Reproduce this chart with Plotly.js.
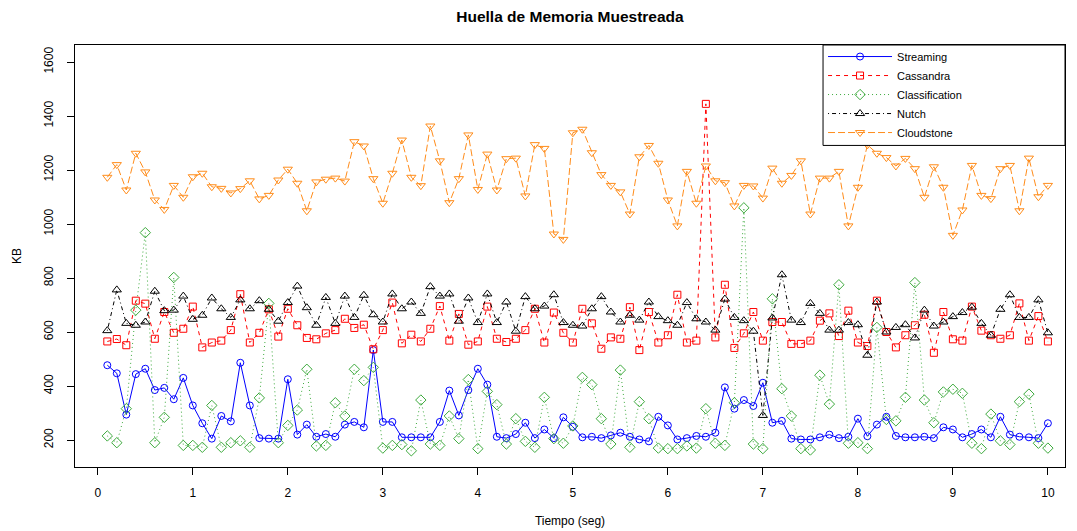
<!DOCTYPE html>
<html>
<head>
<meta charset="utf-8">
<script src="https://cdn.plot.ly/plotly-3.0.1.min.js"></script>
<style>html,body{margin:0;padding:0;background:#fff;}#chart{width:1077px;height:531px;}</style>
</head>
<body>
<div id="chart"></div>
<script>
const tiempo = [0.1,0.2,0.3,0.4,0.5,0.6,0.7,0.8,0.9,1.0,1.1,1.2,1.3,1.4,1.5,1.6,1.7,1.8,1.9,2.0,
2.1,2.2,2.3,2.4,2.5,2.6,2.7,2.8,2.9,3.0,3.1,3.2,3.3,3.4,3.5,3.6,3.7,3.8,3.9,4.0,
4.1,4.2,4.3,4.4,4.5,4.6,4.7,4.8,4.9,5.0,5.1,5.2,5.3,5.4,5.5,5.6,5.7,5.8,5.9,6.0,
6.1,6.2,6.3,6.4,6.5,6.6,6.7,6.8,6.9,7.0,7.1,7.2,7.3,7.4,7.5,7.6,7.7,7.8,7.9,8.0,
8.1,8.2,8.3,8.4,8.5,8.6,8.7,8.8,8.9,9.0,9.1,9.2,9.3,9.4,9.5,9.6,9.7,9.8,9.9,10.0];

const streaming = [477,447,294,444,464,385,393,351,430,328,262,205,289,269,486,328,207,205,205,
425,220,257,212,222,212,257,267,247,533,267,267,210,210,210,210,267,383,291,385,464,
405,212,207,222,264,207,239,207,284,249,210,212,207,217,227,212,202,195,286,254,
202,207,215,212,227,395,316,348,326,412,264,271,205,202,202,210,220,207,212,279,214,
257,286,215,210,210,212,207,247,239,210,222,239,210,286,220,212,210,207,262];

const cassandra = [565,574,551,716,705,575,674,597,612,694,543,561,568,607,740,561,597,684,583,
686,625,578,573,595,607,649,615,627,536,607,709,558,590,565,612,696,568,667,553,565,
694,575,563,575,607,686,561,672,597,561,686,632,538,580,575,692,533,674,561,588,
738,561,568,1445,580,775,541,595,674,568,637,637,556,556,568,642,669,585,679,561,
548,716,600,543,588,625,664,523,674,573,568,694,605,588,575,588,706,568,659,565];

const classification = [215,190,316,681,968,190,284,802,180,180,173,328,173,190,197,173,356,706,190,
254,311,462,178,180,338,289,462,420,469,170,180,183,160,348,185,180,289,205,424,168,
380,331,185,279,195,173,358,205,188,252,432,405,279,185,459,173,342,279,170,168,
168,178,170,316,188,180,338,1060,185,168,723,390,289,168,163,440,333,775,188,190,
168,617,276,271,358,783,348,264,378,388,373,188,168,296,197,183,342,370,188,170];

const nutch = [605,756,632,625,637,751,679,681,733,647,662,726,686,654,719,686,716,684,640,
709,770,690,625,728,632,733,654,736,664,637,741,686,711,669,768,733,741,640,726,635,
741,635,711,603,731,686,696,738,635,625,622,686,731,674,637,662,644,711,657,642,
625,709,649,637,607,722,654,642,603,291,652,812,644,635,706,669,607,607,635,627,
514,711,600,617,627,578,681,622,637,657,672,692,632,588,684,738,654,654,719,597];

const cloudstone = [1173,1220,1126,1262,1193,1089,1054,1143,1099,1175,1188,1138,1132,1115,1131,1160,1093,1106,1163,
1203,1151,1049,1156,1166,1170,1159,1305,1289,1168,1077,1188,1311,1173,1142,1363,1234,1079,1168,1330,1128,
1259,1126,1242,1244,1104,1294,1280,963,943,1338,1351,1264,1183,1143,1119,1037,1249,1291,1225,1089,
993,1195,1077,1215,1160,1153,1067,1143,1141,1096,1207,1151,1180,1234,1037,1170,1170,1195,993,1136,
1293,1262,1246,1215,1243,1205,1099,1212,1136,958,1052,1217,1106,1094,1205,1217,1049,1244,1101,1143];

const seriesNames = ["Streaming","Cassandra","Classification","Nutch","Cloudstone"];
const xTicks = [0,1,2,3,4,5,6,7,8,9,10];
const yTicks = [200,400,600,800,1000,1200,1400,1600];

const FONT = "Liberation Sans, Arial, sans-serif";

function tr(name, y, color, dash, symbol, size) {
  return {
    x: tiempo, y: y, name: name, type: "scatter", mode: "lines+markers",
    line: {color: color, width: 1, dash: dash},
    marker: {symbol: symbol, size: size, color: color, line: {color: color, width: 1}}
  };
}

const data = [
  tr(seriesNames[0], streaming, "#0000FF", "solid", "circle-open", 7),
  tr(seriesNames[1], cassandra, "#FF0000", "4px,4px", "square-open", 7),
  tr(seriesNames[2], classification, "#3DAA3D", "1px,3px", "diamond-open", 8),
  tr(seriesNames[3], nutch, "#000000", "1px,3px,4px,3px", "triangle-up-open", 8),
  tr(seriesNames[4], cloudstone, "#FF8C1A", "7px,3px", "triangle-down-open", 8)
];

// legend frame (R-style box anchored at the top-right corner of the plot)
const legendLeft = 0.7556, legendBottom = 0.762;

const layout = {
  width: 1077, height: 531,
  margin: {l: 75, r: 12, t: 45, b: 64},
  paper_bgcolor: "#fff", plot_bgcolor: "#fff",
  font: {family: FONT, size: 12, color: "#000"},
  showlegend: true,
  title: {text: "<b>Huella de Memoria Muestreada</b>", font: {family: FONT, size: 15.5, color: "#000"},
          x: 0.5, xref: "paper", xanchor: "center", y: 0.968, yref: "container", yanchor: "middle"},
  xaxis: {
    range: [-0.24, 10.18], tickvals: xTicks, ticktext: xTicks.map(String),
    showgrid: false, zeroline: false, showline: true, mirror: true, linecolor: "#000", linewidth: 1,
    ticks: "outside", ticklen: 7, tickcolor: "#000", ticklabelstandoff: 8, tickfont: {size: 12, color: "#000"},
    title: {text: "Tiempo (seg)", font: {size: 12, color: "#000"}, standoff: 17}
  },
  yaxis: {
    range: [100, 1663], tickvals: yTicks, ticktext: yTicks.map(String),
    showgrid: false, zeroline: false, showline: true, mirror: true, linecolor: "#000", linewidth: 1,
    ticks: "outside", ticklen: 7, tickcolor: "#000", tickangle: -90, ticklabelstandoff: 9,
    tickfont: {size: 12, color: "#000"},
    title: {text: "KB", font: {size: 12, color: "#000"}, standoff: 18}
  },
  shapes: [{
    type: "rect", xref: "paper", yref: "paper", x0: legendLeft, x1: 1, y0: legendBottom, y1: 1,
    line: {color: "#000", width: 1}, fillcolor: "#fff", layer: "above"
  }],
  legend: {
    x: legendLeft, y: 1.007, xref: "paper", yref: "paper", xanchor: "left", yanchor: "top",
    bgcolor: "rgba(0,0,0,0)", borderwidth: 0,
    font: {family: FONT, size: 11, color: "#000"},
    itemwidth: 64, tracegroupgap: 0
  }
};

Plotly.newPlot("chart", data, layout, {displayModeBar: false, staticPlot: true});
</script>
</body>
</html>
